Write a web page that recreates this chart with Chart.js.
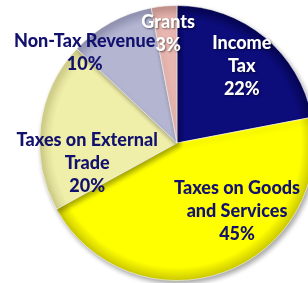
<!DOCTYPE html>
<html>
<head>
<meta charset="utf-8">
<script src="https://cdn.jsdelivr.net/npm/chart.js@4/dist/chart.umd.min.js"></script>
<style>
  html, body { margin: 0; padding: 0; background: #ffffff; overflow: hidden; width: 308px; height: 283px; }
  #wrap { position: absolute; left: 0; top: 0; width: 354px; height: 286px; }
</style>
</head>
<body>
<div id="wrap"><canvas id="chartRevenue" width="354" height="286"></canvas></div>
<script>
// Datos del gráfico
const categoryLines = [
    ['Income', 'Tax'],
    ['Taxes on Goods', 'and Services'],
    ['Taxes on External', 'Trade'],
    ['Non-Tax Revenue'],
    ['Grants']
];
const categories = categoryLines.map(l => l.join(' '));
const shares = [22, 45, 20, 10, 3];

// Estilo
const baseColors = ['#0c0c7a', '#ffff00', '#f0efaa', '#b4b5d1', '#e8b6b0'];
const edgeColors = ['#05054f', '#c9c600', '#cfcd86', '#8e8fae', '#c08e89'];
const textColors = ['#ffffff', '#12126e', '#12126e', '#12126e', '#ffffff'];
// desplazamiento del texto respecto al centro de cada porción (grados, fracción del radio)
const labelAngleShift = [0.6, -21.6, -20, -16.8, 0.8];
const labelRadius = [0.73, 0.66, 0.67, 0.94, 0.80];

function sliceFill(context) {
    const chart = context.chart;
    const area = chart.chartArea;
    const i = context.dataIndex;
    if (!area) return baseColors[i];
    const cx = (area.left + area.right) / 2;
    const cy = (area.top + area.bottom) / 2;
    const r = Math.min(area.right - area.left, area.bottom - area.top) / 2;
    const g = chart.ctx.createRadialGradient(cx, cy, 0, cx, cy, r);
    g.addColorStop(0, baseColors[i]);
    g.addColorStop(0.9, baseColors[i]);
    g.addColorStop(1, edgeColors[i]);
    return g;
}

const shadowPlugin = {
    id: 'pieShadow',
    beforeDatasetDraw(chart) {
        const ctx = chart.ctx;
        ctx.save();
        ctx.shadowColor = 'rgba(0,0,0,0.35)';
        ctx.shadowBlur = 5;
        ctx.shadowOffsetX = 2;
        ctx.shadowOffsetY = 3;
    },
    afterDatasetDraw(chart) {
        chart.ctx.restore();
    }
};

const sliceLabels = {
    id: 'sliceLabels',
    afterDatasetsDraw(chart) {
        const ctx = chart.ctx;
        const meta = chart.getDatasetMeta(0);
        const total = shares.reduce((a, b) => a + b, 0);
        ctx.save();
        ctx.font = '900 18px Lato, "Open Sans", sans-serif';
        ctx.textAlign = 'center';
        ctx.textBaseline = 'middle';
        meta.data.forEach((arc, i) => {
            const p = arc.getProps(['x', 'y', 'startAngle', 'endAngle', 'outerRadius'], true);
            const mid = (p.startAngle + p.endAngle) / 2 + labelAngleShift[i] * Math.PI / 180;
            const rr = p.outerRadius * labelRadius[i];
            const lx = p.x + Math.cos(mid) * rr;
            const ly = p.y + Math.sin(mid) * rr;
            const lines = categoryLines[i].concat([Math.round(shares[i] / total * 100) + '%']);
            const lh = 23;
            const y0 = ly - (lines.length - 1) * lh / 2;
            ctx.fillStyle = textColors[i];
            if (textColors[i] === '#ffffff') {
                ctx.shadowColor = 'rgba(0,0,0,0.5)';
                ctx.shadowBlur = 2;
                ctx.shadowOffsetX = 1;
                ctx.shadowOffsetY = 1;
            } else {
                ctx.shadowColor = 'rgba(0,0,0,0)';
            }
            lines.forEach((t, k) => ctx.fillText(t, lx, y0 + k * lh));
        });
        ctx.restore();
    }
};

new Chart(document.getElementById('chartRevenue'), {
    type: 'pie',
    data: {
        labels: categories,
        datasets: [{
            data: shares,
            backgroundColor: sliceFill,
            borderColor: 'rgba(255,255,255,0.55)',
            borderWidth: 1
        }]
    },
    options: {
        responsive: false,
        animation: false,
        layout: { padding: { left: 39, right: 39, top: 5, bottom: 5 } },
        plugins: {
            legend: { display: false },
            tooltip: { enabled: false }
        }
    },
    plugins: [shadowPlugin, sliceLabels]
});
</script>
</body>
</html>
